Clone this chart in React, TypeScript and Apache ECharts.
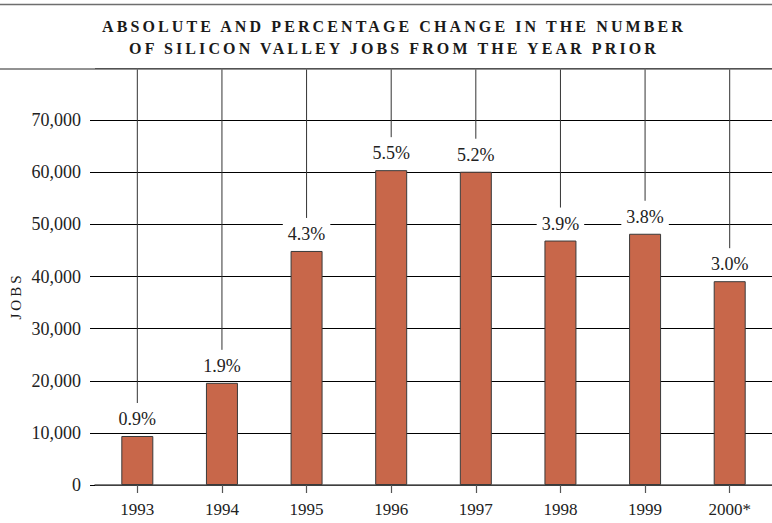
import React, { useEffect, useRef } from "react";
import * as echarts from "echarts";

const titleLines = [
  "ABSOLUTE AND PERCENTAGE CHANGE IN THE NUMBER",
  "OF SILICON VALLEY JOBS FROM THE YEAR PRIOR",
];
const years = ["1993", "1994", "1995", "1996", "1997", "1998", "1999", "2000*"];
const jobsChange = [9400, 19600, 44900, 60400, 60100, 46900, 48200, 39100];
const pctChange = ["0.9%", "1.9%", "4.3%", "5.5%", "5.2%", "3.9%", "3.8%", "3.0%"];
const yAxisName = "JOBS";

const SERIF = '"Liberation Serif", "Times New Roman", serif';

export default function App() {
  const ref = useRef<HTMLDivElement>(null);

  useEffect(() => {
    document.body.style.margin = "0";
    if (!ref.current) return;
    const chart = echarts.init(ref.current, undefined, { renderer: "svg" });

    const option: any = {
      animation: false,
      backgroundColor: "#ffffff",
      grid: { left: 95, right: 0, top: 68, bottom: 38, containLabel: false },
      xAxis: {
        type: "category",
        data: years,
        axisLine: { show: true, lineStyle: { color: "#555", width: 1.5 } },
        axisTick: { show: true, alignWithLabel: true, length: 8, lineStyle: { color: "#555", width: 1.2 } },
        axisLabel: { margin: 16, fontFamily: SERIF, fontSize: 17, color: "#222" },
        splitLine: { show: false },
      },
      yAxis: {
        type: "value",
        min: 0,
        max: 80000,
        interval: 10000,
        axisLine: { show: false },
        axisTick: { show: true, length: 5, lineStyle: { color: "#000", width: 1 } },
        axisLabel: {
          margin: 14,
          fontFamily: SERIF,
          fontSize: 18,
          color: "#222",
          showMaxLabel: false,
          formatter: (v: number) => (v >= 80000 ? "" : v.toLocaleString("en-US")),
        },
        splitLine: { show: true, lineStyle: { color: "#000", width: 1 } },
      },
      graphic: [
        { type: "line", shape: { x1: 0, y1: 4.5, x2: 772, y2: 4.5 }, style: { stroke: "#6e6e6e", lineWidth: 1.5 }, z: 10 },
        { type: "line", shape: { x1: 0, y1: 69, x2: 772, y2: 69 }, style: { stroke: "#6e6e6e", lineWidth: 1.5 }, z: 10 },
        {
          type: "text",
          x: 394,
          y: 26.5,
          style: {
            text: titleLines[0],
            fill: "#1a1a1a",
            font: `bold 16px ${SERIF}`,
            textAlign: "center",
            textVerticalAlign: "middle",
          },
        },
        {
          type: "text",
          x: 394,
          y: 48,
          style: {
            text: titleLines[1],
            fill: "#1a1a1a",
            font: `bold 16px ${SERIF}`,
            textAlign: "center",
            textVerticalAlign: "middle",
          },
        },
        {
          type: "text",
          x: 16,
          y: 296,
          rotation: Math.PI / 2,
          style: {
            text: yAxisName,
            fill: "#1b1b1b",
            font: `15px ${SERIF}`,
            textAlign: "center",
            textVerticalAlign: "middle",
          },
        },
      ],
      series: [
        {
          type: "custom",
          z: 1,
          silent: true,
          data: jobsChange.map((v, i) => [i, v]),
          renderItem: (params: any, api: any) => {
            const idx = api.value(0);
            const val = api.value(1);
            const top = api.coord([idx, 80000]);
            const p = api.coord([idx, val]);
            return {
              type: "line",
              shape: { x1: p[0], y1: top[1], x2: p[0], y2: p[1] - 33 },
              style: { stroke: "#333", lineWidth: 1 },
            };
          },
        },
        {
          type: "bar",
          z: 3,
          data: jobsChange,
          barWidth: 32,
          itemStyle: { color: "#C8674A", borderColor: "#3a3a3a", borderWidth: 1 },
          label: {
            show: true,
            position: "top",
            distance: 6,
            formatter: (p: any) => pctChange[p.dataIndex],
            fontFamily: SERIF,
            fontSize: 18,
            color: "#222",
            backgroundColor: "#ffffff",
            padding: [3, 5, 2, 5],
          },
        },
      ],
    };

    chart.setOption(option);
    return () => chart.dispose();
  }, []);

  return (
    <>
      <style>{`
        text[fill="#1a1a1a"], text[fill="rgb(26,26,26)"] { letter-spacing: 3.1px; }
        text[fill="#1b1b1b"], text[fill="rgb(27,27,27)"] { letter-spacing: 3px; }
      `}</style>
      <div ref={ref} style={{ width: 772, height: 523 }} />
    </>
  );
}
